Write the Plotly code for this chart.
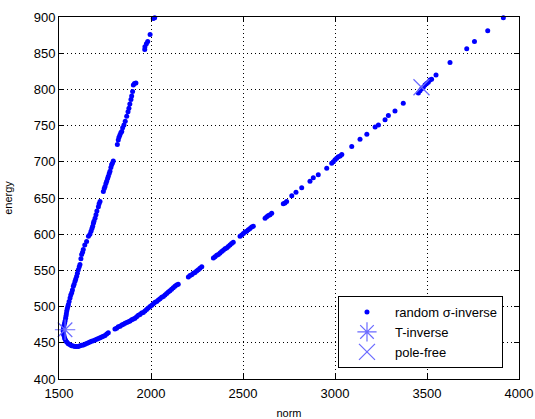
import plotly.graph_objects as go

# random sigma-inverse samples: upper branch then lower branch
upper_norm = [1523, 1525, 1527, 1530, 1533, 1536, 1538, 1540, 1542, 1545, 1548, 1551, 1555, 1560, 1564,
              1569, 1573, 1578, 1582, 1587, 1591, 1596, 1600, 1605, 1610, 1614, 1619, 1623, 1628, 1632,
              1640, 1650, 1660, 1668, 1674, 1679, 1683, 1687, 1690, 1696, 1701, 1706, 1714, 1718, 1723,
              1741, 1746, 1750, 1755, 1759, 1764, 1768, 1773, 1777, 1782, 1786, 1790, 1795,
              1817, 1822, 1826, 1831, 1836, 1841, 1846, 1853, 1860, 1868, 1875, 1880, 1885, 1891, 1895,
              1900, 1904, 1910, 1918, 1966, 1967, 1975, 1982, 1995, 2012, 2020]
upper_energy = [468, 471, 474, 477, 480, 484, 487, 490, 494, 497, 500, 503, 507, 512, 516,
                519, 523, 528, 531, 535, 538, 542, 546, 551, 555, 558, 566, 572, 575, 579,
                585, 590, 597, 600, 604, 608, 611, 615, 618, 622, 627, 632, 638, 642, 645,
                659, 663, 666, 670, 673, 677, 680, 684, 687, 692, 696, 698, 701,
                724, 730, 734, 737, 740, 742, 747, 751, 756, 763, 769, 774, 780, 786, 791,
                797, 806, 808, 809, 855, 859, 863, 866, 876, 898, 899]

lower_norm = [1523, 1525, 1527, 1530, 1533, 1537, 1542, 1549, 1556, 1563, 1569, 1578, 1587, 1596, 1605,
              1614, 1623, 1632, 1641, 1650, 1659, 1668, 1677, 1686, 1696, 1705, 1714, 1723, 1732, 1741,
              1750, 1759, 1768, 1804, 1813, 1822, 1832, 1841, 1850, 1859, 1868, 1877, 1886, 1895, 1904,
              1913, 1922, 1931, 1940, 1949, 1958, 1967, 1976, 1985, 1995, 2004, 2013, 2022, 2031, 2040,
              2049, 2058, 2067, 2076, 2085, 2094, 2103, 2112, 2121, 2130, 2139, 2148, 2203, 2212, 2221,
              2230, 2239, 2248, 2257, 2266, 2276, 2339, 2348, 2357, 2366, 2375, 2384, 2393, 2402, 2411,
              2420, 2429, 2438, 2447, 2484, 2493, 2502, 2511, 2520, 2529, 2538, 2547, 2556, 2620, 2629,
              2638, 2647, 2656, 2719, 2728, 2737, 2765, 2788, 2819, 2864, 2882, 2909, 2955, 2982, 2991,
              3000, 3009, 3018, 3028, 3037, 3091, 3136, 3173, 3218, 3236, 3272, 3290, 3326, 3371, 3453,
              3462, 3471, 3480, 3489, 3498, 3507, 3516, 3525, 3549, 3625, 3716, 3758, 3830, 3915]
lower_energy = [466, 462, 460, 457, 455, 453, 451, 449, 448, 447, 446, 445.5, 445, 445, 445,
                446, 446.5, 447, 448, 449, 450, 451, 452, 453, 454, 455, 456, 457, 458, 459,
                460, 462, 464, 469, 470, 472, 473, 474.5, 475.5, 477, 478, 479, 480, 482, 483,
                484, 486, 488, 489, 491, 492, 494, 496, 498, 500, 502, 504, 506, 507, 509,
                511, 513, 514, 516, 518, 520, 522, 524, 526, 528, 530, 531, 541, 543, 544,
                546, 547, 549, 551, 553, 555, 567, 569, 571, 572, 574, 576, 578, 580, 581,
                583, 585, 587, 589, 597, 599, 601, 603, 604, 606, 608, 610, 611, 622, 624,
                626, 627, 629, 642, 643, 645, 653, 658, 664, 673, 678, 682, 691, 698, 700,
                703, 705, 707, 708, 710, 721, 731, 738, 748, 751, 758, 764, 770, 781, 795,
                798, 801, 803, 806, 808, 810, 813, 814, 820, 837, 856, 866, 881, 899]

t_inverse_norm = [1533]
t_inverse_energy = [468]
pole_free_norm = [3470]
pole_free_energy = [803]

x_ticks = [1500, 2000, 2500, 3000, 3500, 4000]
y_ticks = [400, 450, 500, 550, 600, 650, 700, 750, 800, 850, 900]

FONT = "Liberation Sans, Arial"

fig = go.Figure()
fig.add_trace(go.Scatter(
    x=upper_norm + lower_norm, y=upper_energy + lower_energy,
    mode="markers", name="random \u03c3-inverse",
    marker=dict(color="#0000ff", size=5, symbol="circle", line=dict(width=0)),
    cliponaxis=False,
))
fig.add_trace(go.Scatter(
    x=t_inverse_norm, y=t_inverse_energy, mode="markers", name="T-inverse",
    marker=dict(symbol="asterisk-open", size=17, color="#6a6aff", line=dict(color="#6a6aff", width=1.2)),
    cliponaxis=False,
))
fig.add_trace(go.Scatter(
    x=pole_free_norm, y=pole_free_energy, mode="markers", name="pole-free",
    marker=dict(symbol="x-thin-open", size=16, color="#6a6aff", line=dict(color="#6a6aff", width=1.2)),
    cliponaxis=False,
))

axis_common = dict(
    showline=True, linecolor="black", linewidth=1, mirror="ticks",
    ticks="inside", ticklen=5, tickcolor="black",
    showgrid=True, gridcolor="#000000", gridwidth=1, griddash="1px,3px",
    zeroline=False, automargin=False,
    tickfont=dict(family=FONT, size=13, color="black"),
)
fig.update_xaxes(range=[1500, 4000], tickvals=x_ticks, ticktext=[str(v) for v in x_ticks],
                 ticklabelstandoff=2,
                 title=dict(text="norm", font=dict(family=FONT, size=11, color="black"), standoff=9),
                 **axis_common)
fig.update_yaxes(range=[400, 900], tickvals=y_ticks, ticktext=[str(v) for v in y_ticks],
                 title=dict(text="energy", font=dict(family=FONT, size=11, color="black"), standoff=18),
                 **axis_common)

fig.update_layout(
    width=535, height=419,
    margin=dict(l=59, r=16, t=17, b=40),
    paper_bgcolor="white", plot_bgcolor="white",
    showlegend=True,
    legend=dict(
        x=0.6065, y=0.229, xanchor="left", yanchor="top",
        bgcolor="white", bordercolor="black", borderwidth=1,
        font=dict(family=FONT, size=13, color="black"),
        itemwidth=46, tracegroupgap=0,
    ),
)

# remove the default 8px page margin so the figure fills the window exactly
fig.write_html("out.html",
               config={"displayModeBar": False, "staticPlot": True},
               post_script="document.body.style.margin='0';document.body.style.overflow='hidden';")
